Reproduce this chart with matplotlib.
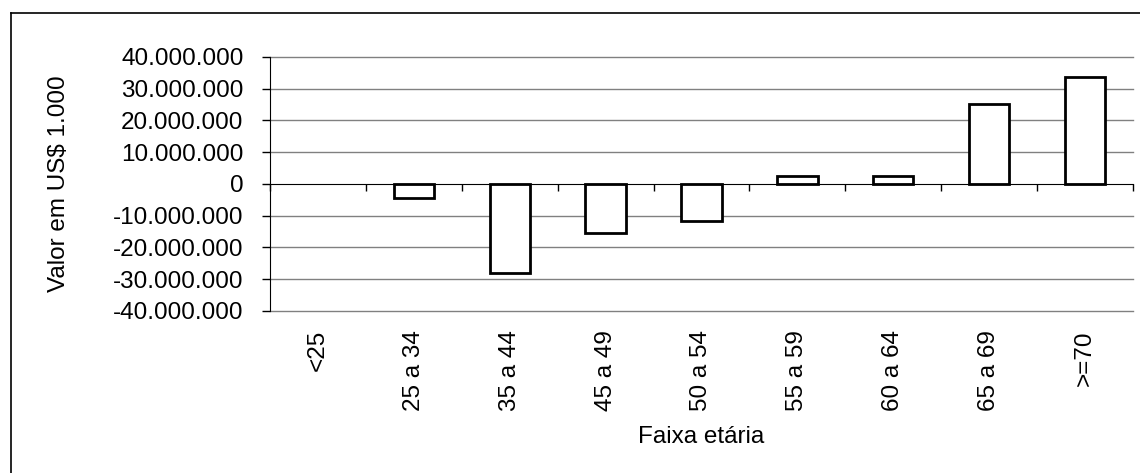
import matplotlib.pyplot as plt
import matplotlib.transforms as mtransforms
from matplotlib.ticker import FuncFormatter

plt.rcParams['font.family'] = ['Liberation Sans', 'DejaVu Sans']

# data (US$ 1.000)
faixas = ["<25", "25 a 34", "35 a 44", "45 a 49", "50 a 54",
          "55 a 59", "60 a 64", "65 a 69", ">=70"]
valores = [0, -4600000, -28200000, -15400000, -11600000,
           2600000, 2600000, 25100000, 33500000]
yticks = list(range(-40000000, 40000001, 10000000))

fig = plt.figure(figsize=(11.4, 4.73), dpi=100)
ax = fig.add_axes([0.2368, 0.3425, 0.7571, 0.5375])

# outer frame of the chart (cut at right and bottom in the reference)
fig.add_artist(plt.Line2D([0.0096, 0.0096], [0, 0.9725], color='black', lw=1.2,
                          transform=fig.transFigure))
fig.add_artist(plt.Line2D([0.0096, 1.0], [0.9725, 0.9725], color='black', lw=1.2,
                          transform=fig.transFigure))

x = list(range(len(faixas)))
larguras = [0 if v == 0 else 2.0 for v in valores]
ax.bar(x, valores, width=0.42, color='white', edgecolor='black', linewidth=larguras, zorder=3)

ax.set_xlim(-0.5, len(faixas) - 0.5)
ax.set_ylim(-40000000, 40000000)
ax.set_yticks(yticks)
ax.yaxis.set_major_formatter(FuncFormatter(lambda v, p: f"{int(v):,}".replace(",", ".")))
ax.tick_params(axis='y', direction='out', length=6, width=1, labelsize=17.5, pad=13)
for t in yticks:
    if t != 0:
        ax.axhline(t, color='#808080', linewidth=1, zorder=0, clip_on=False)

# horizontal axis runs through zero, ticks at category boundaries
ax.spines['bottom'].set_position(('data', 0))
ax.spines['bottom'].set_zorder(4)
ax.spines['top'].set_visible(False)
ax.spines['right'].set_visible(False)
ax.set_xticks([i - 0.5 for i in range(len(faixas) + 1)])
ax.set_xticklabels([])
ax.tick_params(axis='x', direction='out', length=5, width=1)

# category labels sit below the plot area
trans = mtransforms.blended_transform_factory(ax.transData, ax.transAxes)
for i, lab in enumerate(faixas):
    ax.text(i, -0.075, lab, transform=trans, rotation=90, ha='center', va='top',
            fontsize=17.5)

ax.set_ylabel("Valor em US$ 1.000", fontsize=17.5, va='center')
ax.yaxis.set_label_coords(-0.2445, 0.5)
ax.set_xlabel("Faixa etária", fontsize=17.5, va='center')
ax.xaxis.set_label_coords(0.5, -0.495)

fig.savefig("out.png", dpi=100)
